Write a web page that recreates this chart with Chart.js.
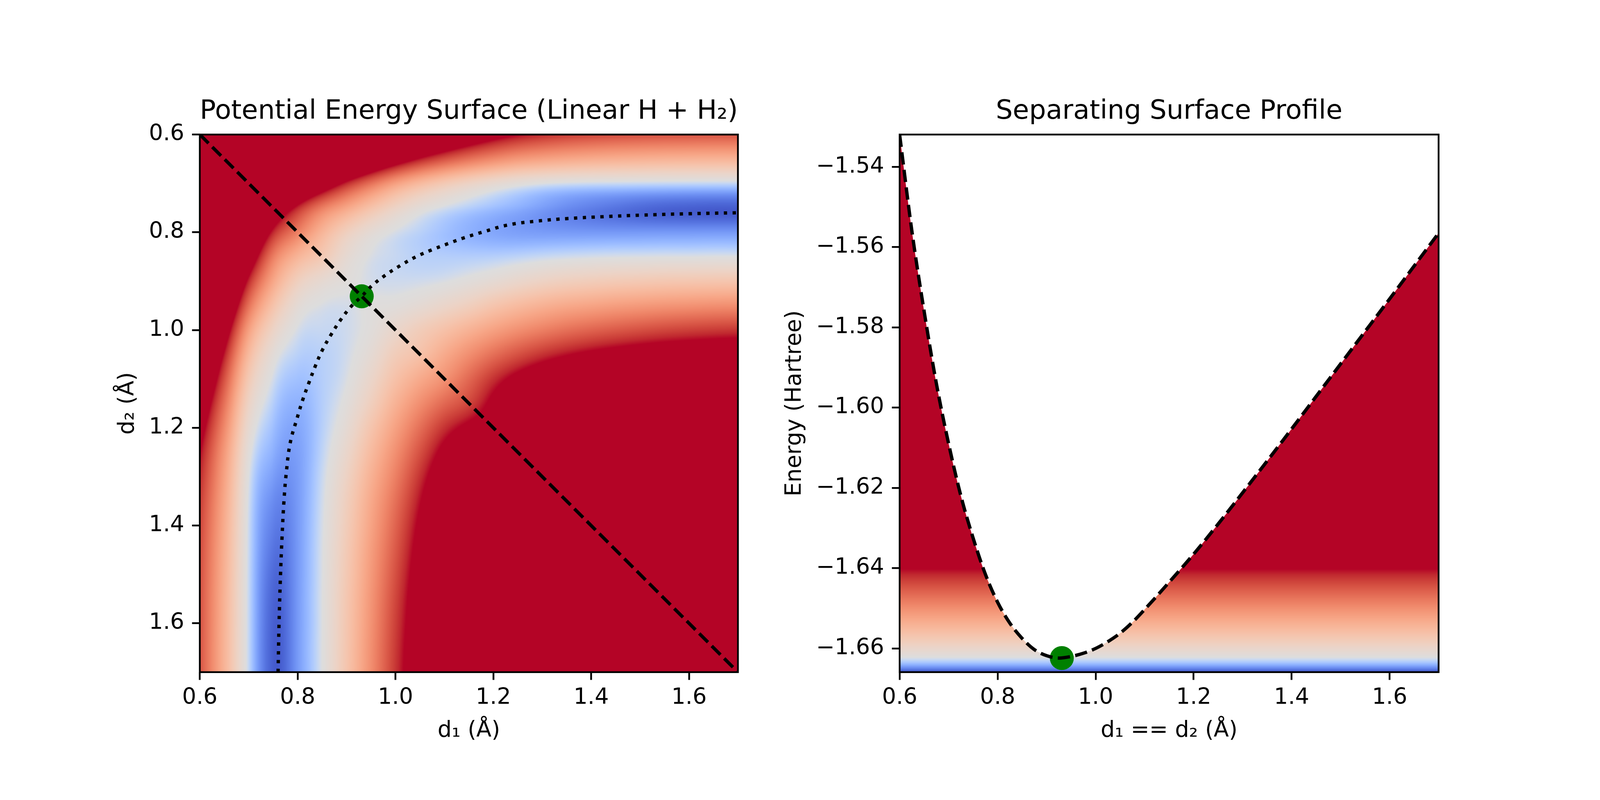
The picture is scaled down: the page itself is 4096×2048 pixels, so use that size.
<!DOCTYPE html>
<html><head><meta charset="utf-8">
<script src="https://cdn.jsdelivr.net/npm/chart.js@4.4.1/dist/chart.umd.min.js"></script>
<style>
html,body{margin:0;padding:0;background:#fff;width:4096px;height:2048px;overflow:hidden}
canvas{position:absolute;top:0}
#c1{left:0}
#c2{left:1960px}
</style></head><body>
<canvas id="c1" width="1960" height="2048"></canvas>
<canvas id="c2" width="2136" height="2048"></canvas>
<script>
// ---------------- data ----------------
// grid of bond lengths (Å) used for the PES sample grid (both d1 and d2)
const gridD = [0.60,0.65,0.70,0.75,0.80,0.85,0.90,0.95,1.00,1.05,1.10,1.15,1.20,1.25,1.30,1.35,1.40,1.45,1.50,1.55,1.60,1.65,1.70];
// energies (Hartree), row j = d2 index, entries i = 0..j (d1 index); surface is symmetric E(d1,d2)=E(d2,d1)
const peLower = [
[-1.5320],
[-1.5510,-1.5760],
[-1.5650,-1.5900,-1.6090],
[-1.5770,-1.5990,-1.6185,-1.6325],
[-1.5870,-1.6075,-1.6270,-1.6415,-1.6485],
[-1.5960,-1.6155,-1.6345,-1.6482,-1.6544,-1.6575],
[-1.6040,-1.6230,-1.6415,-1.6526,-1.6586,-1.6608,-1.6618],
[-1.6115,-1.6300,-1.6471,-1.6564,-1.6611,-1.66233,-1.66249,-1.6620],
[-1.6185,-1.6360,-1.6518,-1.6594,-1.6624,-1.66281,-1.66263,-1.66176,-1.6600],
[-1.6247,-1.6408,-1.6551,-1.6614,-1.6631,-1.66312,-1.66257,-1.66101,-1.6581,-1.6562],
[-1.6300,-1.6444,-1.6575,-1.6625,-1.66365,-1.66322,-1.66232,-1.65987,-1.6562,-1.6531,-1.6503],
[-1.6343,-1.6472,-1.6593,-1.6632,-1.66405,-1.66324,-1.66176,-1.65855,-1.6541,-1.6500,-1.6464,-1.6435],
[-1.6376,-1.6494,-1.66065,-1.6637,-1.6643,-1.66318,-1.66101,-1.65679,-1.6520,-1.6470,-1.6422,-1.6389,-1.6365],
[-1.6400,-1.6511,-1.6616,-1.6641,-1.66445,-1.6630,-1.66009,-1.65529,-1.6501,-1.6444,-1.6387,-1.6340,-1.6312,-1.6290],
[-1.6416,-1.6521,-1.6622,-1.6645,-1.66453,-1.66276,-1.65921,-1.65397,-1.6485,-1.6422,-1.6360,-1.6305,-1.6270,-1.6238,-1.6212],
[-1.6427,-1.6528,-1.6625,-1.66485,-1.66457,-1.66258,-1.65855,-1.65296,-1.6471,-1.6405,-1.6341,-1.6283,-1.6237,-1.6195,-1.6164,-1.6133],
[-1.6434,-1.6533,-1.66265,-1.6651,-1.66459,-1.66245,-1.65811,-1.6523,-1.6460,-1.6392,-1.6328,-1.6270,-1.6217,-1.6169,-1.6125,-1.6090,-1.6053],
[-1.6439,-1.65365,-1.66272,-1.6653,-1.6646,-1.66235,-1.65771,-1.65164,-1.6451,-1.6382,-1.6318,-1.6261,-1.6204,-1.6151,-1.6103,-1.6059,-1.6019,-1.5972],
[-1.6442,-1.6539,-1.66278,-1.66548,-1.6646,-1.66231,-1.65745,-1.65116,-1.6443,-1.6374,-1.6311,-1.6252,-1.6195,-1.6138,-1.6085,-1.6032,-1.5984,-1.5944,-1.5891],
[-1.6444,-1.6541,-1.66282,-1.6656,-1.66459,-1.66225,-1.65718,-1.65072,-1.6436,-1.6368,-1.6306,-1.6244,-1.6186,-1.6129,-1.6072,-1.6019,-1.5966,-1.5918,-1.5870,-1.5810],
[-1.6445,-1.6542,-1.66285,-1.66566,-1.66459,-1.66225,-1.65705,-1.65041,-1.6431,-1.6364,-1.6302,-1.6239,-1.6182,-1.6120,-1.6063,-1.6006,-1.5953,-1.5896,-1.5843,-1.5786,-1.5729],
[-1.6446,-1.65428,-1.66287,-1.6657,-1.66458,-1.6622,-1.65692,-1.6501,-1.6427,-1.6360,-1.6299,-1.6237,-1.6178,-1.6116,-1.6059,-1.6002,-1.5944,-1.5887,-1.5830,-1.5773,-1.5711,-1.5647],
[-1.6446,-1.65428,-1.66288,-1.6657,-1.66458,-1.6622,-1.65679,-1.64992,-1.6424,-1.6358,-1.6296,-1.6235,-1.6173,-1.6112,-1.6050,-1.5988,-1.5927,-1.5865,-1.5804,-1.5742,-1.5680,-1.5623,-1.5565]
];
// minimum energy path (dotted curve)
const mepD1 = [0.760,0.762,0.765,0.768,0.772,0.777,0.785,0.799,0.811,0.823,0.836,0.850,0.868,0.888,0.910,0.931,0.951,0.979,1.010,1.042,1.074,1.108,1.141,1.180,1.230,1.290,1.350,1.426,1.500,1.600,1.700];
const mepD2 = [1.700,1.600,1.500,1.426,1.350,1.290,1.230,1.180,1.141,1.108,1.074,1.042,1.010,0.979,0.951,0.931,0.910,0.888,0.868,0.850,0.836,0.823,0.811,0.799,0.785,0.777,0.772,0.768,0.765,0.762,0.760];
// separating surface d1 == d2 (dashed diagonal)
const diagD = [0.6, 1.7];
// transition state
const tsD = 0.931;
const tsE = -1.6624;
// energy profile along d1 == d2
const profileD = [0.600,0.625,0.650,0.675,0.700,0.725,0.750,0.775,0.800,0.825,0.850,0.875,0.900,0.925,0.950,0.975,1.000,1.025,1.050,1.075,1.100,1.150,1.200,1.250,1.300,1.350,1.400,1.450,1.500,1.550,1.600,1.650,1.700];
const profileE = [-1.5320,-1.5560,-1.5760,-1.5940,-1.6090,-1.6220,-1.6325,-1.6415,-1.6485,-1.6537,-1.6575,-1.6603,-1.6618,-1.6624,-1.6620,-1.6612,-1.6600,-1.6583,-1.6562,-1.6535,-1.6503,-1.6435,-1.6365,-1.6290,-1.6212,-1.6133,-1.6053,-1.5972,-1.5891,-1.5810,-1.5729,-1.5647,-1.5565];
// axes
const dRange = [0.6, 1.7];
const eRange = [-1.66591, -1.53194];
const dTicks = [0.6,0.8,1.0,1.2,1.4,1.6];
const dTickLabels = ['0.6','0.8','1.0','1.2','1.4','1.6'];
const eTicks = [-1.66,-1.64,-1.62,-1.60,-1.58,-1.56,-1.54];
const eTickLabels = ['\u22121.66','\u22121.64','\u22121.62','\u22121.60','\u22121.58','\u22121.56','\u22121.54'];
// colour normalisation (energy at low end, centre, high end of coolwarm)
const normE = [-1.6660, -1.6622, -1.6402];

// ---------------- styles ----------------
const PT = 600/72*0.682;
const FS_TICK = 10*PT, FS_TITLE = 12*PT;
const LW_SPINE = 0.8*PT, TICK_LEN = 3.5*PT, LW_LINE = 1.5*PT;
const DASHED = [3.7*1.5*PT, 1.6*1.5*PT];
const DOTTED = [1.0*1.5*PT, 1.65*1.5*PT];
const coolwarm = [[59,76,192],[68,90,204],[77,104,215],[87,117,225],[98,130,234],[108,142,241],[119,154,247],[130,165,251],[141,176,254],[152,185,255],[163,194,255],[174,201,253],[184,208,249],[194,213,244],[204,217,238],[213,219,230],[221,221,221],[229,216,209],[236,211,198],[241,204,185],[245,196,173],[247,187,160],[247,177,148],[247,166,135],[244,154,123],[241,141,111],[236,127,99],[229,112,88],[222,96,77],[213,80,66],[203,62,56],[192,40,47],[180,4,38]];

Chart.defaults.font.family = "'DejaVu Sans', sans-serif";
Chart.defaults.color = '#000';

const LUT_N = 1024;
const lut = new Uint8ClampedArray(LUT_N*3);
for (let k=0;k<LUT_N;k++){
  const f = k/(LUT_N-1)*(coolwarm.length-1);
  const i = Math.min(coolwarm.length-2, Math.floor(f)); const u = f-i;
  for (let c=0;c<3;c++) lut[k*3+c] = coolwarm[i][c] + (coolwarm[i+1][c]-coolwarm[i][c])*u;
}
function normOf(E){
  const a=normE[0], b=normE[1], c=normE[2];
  const t = E<=b ? 0.5*(E-a)/(b-a) : 0.5+0.5*(E-b)/(c-b);
  return Math.min(1, Math.max(0, t));
}
function lutIndex(E){ return Math.round(normOf(E)*(LUT_N-1))*3; }

// full symmetric matrix with one extra (linearly extended) sample on each side for smooth shading
const N = gridD.length, NP = N+2;
function val(i,j){ return i<=j ? peLower[j][i] : peLower[i][j]; }
function extI(i,j){ if (i<0) return 2*val(0,j)-val(1,j); if (i>N-1) return 2*val(N-1,j)-val(N-2,j); return val(i,j); }
function ext(i,j){
  if (j<0) return 2*extI(i,0)-extI(i,1);
  if (j>N-1) return 2*extI(i,N-1)-extI(i,N-2);
  return extI(i,j);
}
const MP = new Float64Array(NP*NP);
for (let j=-1;j<=N;j++) for (let i=-1;i<=N;i++) MP[(j+1)*NP+(i+1)] = ext(i,j);
function cr(p0,p1,p2,p3,t){ return p1 + 0.5*t*(p2-p0 + t*(2*p0-5*p1+4*p2-p3 + t*(3*(p1-p2)+p3-p0))); }

const pesImage = {
  id: 'pesImage',
  beforeDraw(chart){
    const {ctx, chartArea:a, scales:{x, y}} = chart;
    const L = Math.floor(a.left), T = Math.floor(a.top);
    const w = Math.ceil(a.right)-L, h = Math.ceil(a.bottom)-T;
    const off = document.createElement('canvas'); off.width=w; off.height=h;
    const octx = off.getContext('2d'); const img = octx.createImageData(w,h); const px = img.data;
    const d0 = gridD[0], step = gridD[1]-gridD[0];
    const gi = new Int32Array(w), gt = new Float64Array(w);
    for (let c=0;c<w;c++){ let g=(x.getValueForPixel(L+c+0.5)-d0)/step; g=Math.min(N-1,Math.max(0,g)); let i0=Math.min(N-2,Math.floor(g)); gi[c]=i0; gt[c]=g-i0; }
    const col = new Float64Array(NP);
    let p=0;
    for (let r=0;r<h;r++){
      let g=(y.getValueForPixel(T+r+0.5)-d0)/step; g=Math.min(N-1,Math.max(0,g));
      const j0=Math.min(N-2,Math.floor(g)), ty=g-j0;
      for (let ii=0; ii<NP; ii++){
        col[ii] = cr(MP[(j0)*NP+ii], MP[(j0+1)*NP+ii], MP[(j0+2)*NP+ii], MP[(j0+3)*NP+ii], ty);
      }
      for (let c=0;c<w;c++){
        const i0=gi[c];
        const E = cr(col[i0], col[i0+1], col[i0+2], col[i0+3], gt[c]);
        const k=lutIndex(E);
        px[p]=lut[k]; px[p+1]=lut[k+1]; px[p+2]=lut[k+2]; px[p+3]=255; p+=4;
      }
    }
    octx.putImageData(img,0,0);
    ctx.save(); ctx.beginPath(); ctx.rect(a.left,a.top,a.right-a.left,a.bottom-a.top); ctx.clip();
    ctx.drawImage(off, L, T); ctx.restore();
  }
};
const energyBands = {
  id: 'energyBands',
  beforeDraw(chart){
    const {ctx, chartArea:a, scales:{y}} = chart;
    ctx.save(); ctx.beginPath(); ctx.rect(a.left,a.top,a.right-a.left,a.bottom-a.top); ctx.clip();
    for (let r=Math.floor(a.top); r<Math.ceil(a.bottom); r++){
      const k=lutIndex(y.getValueForPixel(r+0.5));
      ctx.fillStyle='rgb('+lut[k]+','+lut[k+1]+','+lut[k+2]+')';
      ctx.fillRect(a.left, r, a.right-a.left, 1);
    }
    ctx.restore();
  }
};
const spines = {
  id: 'spines',
  afterDraw(chart){
    const {ctx, chartArea:a} = chart;
    ctx.save(); ctx.strokeStyle='#000'; ctx.lineWidth=LW_SPINE; ctx.lineJoin='miter';
    ctx.strokeRect(a.left,a.top,a.right-a.left,a.bottom-a.top); ctx.restore();
  }
};

const gridOpts = {display:true, drawOnChartArea:false, drawTicks:true, tickLength:TICK_LEN, tickWidth:LW_SPINE, lineWidth:LW_SPINE, color:'#000', tickColor:'#000'};
function xAxis(title){
  return {type:'linear', position:'bottom', min:dRange[0], max:dRange[1],
    afterBuildTicks: s => { s.ticks = dTicks.map(v=>({value:v})); },
    afterFit: s => { s.height = 200; },
    grid: gridOpts, border:{display:false},
    ticks:{autoSkip:false, maxRotation:0, minRotation:0, padding:12.6, font:{size:FS_TICK}, color:'#000', callback:(v,i)=>dTickLabels[i]},
    title:{display:true, text:title, font:{size:FS_TICK}, color:'#000', padding:{top:0,bottom:15.6}}
  };
}
function yAxis(title, vals, labs, min, max, reverse, width, titleTop){
  return {type:'linear', position:'left', min, max, reverse,
    afterBuildTicks: s => { s.ticks = vals.map(v=>({value:v})); },
    afterFit: s => { s.width = width; },
    grid: gridOpts, border:{display:false},
    ticks:{autoSkip:false, padding:TICK_LEN, font:{size:FS_TICK}, color:'#000', callback:(v,i)=>labs[i]},
    title:{display:true, text:title, font:{size:FS_TICK}, color:'#000', padding:{top:titleTop,bottom:0}}
  };
}
function titleOpts(text){
  return {display:true, text, font:{size:FS_TITLE, weight:'normal'}, color:'#000', padding:{top:245.8,bottom:16.8}, fullSize:false};
}

new Chart(document.getElementById('c1'), {
  type:'scatter',
  data:{datasets:[
    {label:'d1 = d2', data: diagD.map(v=>({x:v,y:v})), showLine:true, borderColor:'#000', borderWidth:LW_LINE, borderDash:DASHED, pointRadius:0, order:0},
    {label:'MEP', data: mepD1.map((v,i)=>({x:v,y:mepD2[i]})), showLine:true, borderColor:'#000', borderWidth:LW_LINE, borderDash:DOTTED, pointRadius:0, tension:0.4, order:1},
    {label:'TS', data:[{x:tsD,y:tsD}], pointRadius:30.7, pointBackgroundColor:'#008000', pointBorderColor:'#008000', pointBorderWidth:0, order:2}
  ]},
  options:{responsive:false, animation:false, devicePixelRatio:1, events:[],
    layout:{padding:{left:0,right:70.9,top:0,bottom:127.3}},
    plugins:{legend:{display:false}, tooltip:{enabled:false}, title:titleOpts('Potential Energy Surface (Linear H + H\u2082)')},
    scales:{x:xAxis('d\u2081 (\u00c5)'), y:yAxis('d\u2082 (\u00c5)', dTicks, dTickLabels, dRange[0], dRange[1], true, 511.5, 292.9)}
  },
  plugins:[pesImage, spines]
});

new Chart(document.getElementById('c2'), {
  type:'scatter',
  data:{datasets:[
    {label:'profile', data: profileD.map((v,i)=>({x:v,y:profileE[i]})), showLine:true, borderColor:'#000', borderWidth:LW_LINE, borderDash:DASHED, pointRadius:0, cubicInterpolationMode:'monotone', fill:'end', backgroundColor:'#ffffff', order:0},
    {label:'TS', data:[{x:tsD,y:tsE}], pointRadius:30.7, pointBackgroundColor:'#008000', pointBorderColor:'#008000', pointBorderWidth:0, order:1}
  ]},
  options:{responsive:false, animation:false, devicePixelRatio:1, events:[],
    layout:{padding:{left:0,right:413.2,top:0,bottom:127.3}},
    plugins:{legend:{display:false}, tooltip:{enabled:false}, filler:{propagate:false, drawTime:'beforeDatasetsDraw'}, title:titleOpts('Separating Surface Profile')},
    scales:{x:xAxis('d\u2081 == d\u2082 (\u00c5)'), y:yAxis('Energy (Hartree)', eTicks, eTickLabels, eRange[0], eRange[1], false, 343.1, 40.7)}
  },
  plugins:[energyBands, spines]
});
</script>
</body></html>
